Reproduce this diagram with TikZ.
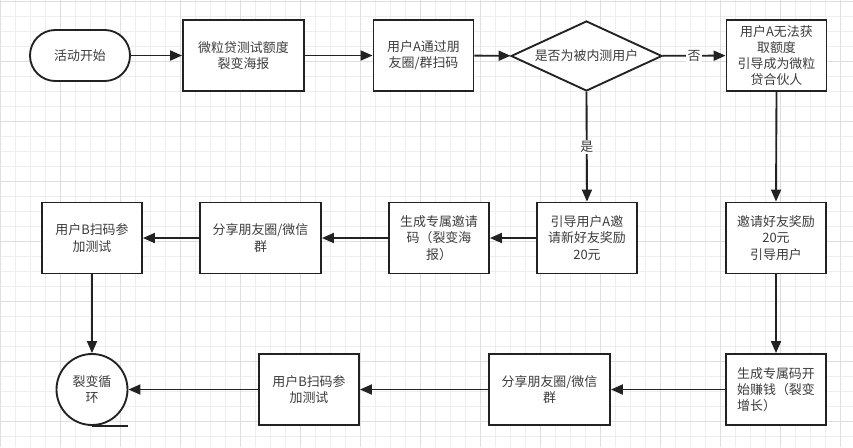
\documentclass[tikz,border=0pt]{standalone}
\usepackage{fontspec}
\setmainfont{Noto Sans CJK SC}
\usepackage{tikz}
\usetikzlibrary{shapes.geometric, arrows.meta, positioning}
\definecolor{mydark}{RGB}{34,34,34}
\definecolor{mytext}{RGB}{60,60,60}
\definecolor{gridminor}{RGB}{238,238,238}
\definecolor{gridmajor}{RGB}{222,222,222}
\tikzset{
  box/.style={rectangle, draw=mydark, fill=white, text=mytext,
    minimum width=75pt, minimum height=53.25pt, align=center,
    inner sep=2pt, line width=1.4pt,
    font=\fontsize{9.7}{12.2}\selectfont},
  widebox/.style={box, minimum width=90.75pt},
  startnode/.style={box, minimum height=38.25pt, rounded corners=19pt},
  decision/.style={diamond, aspect=2.16, draw=mydark, fill=white, text=mytext,
    minimum width=113.25pt, minimum height=52.5pt, inner sep=0pt,
    line width=1.4pt, font=\fontsize{9.7}{12.2}\selectfont},
  loopnode/.style={circle, draw=mydark, fill=white, text=mytext,
    minimum size=53.25pt, inner sep=0pt, align=center,
    line width=1.4pt, font=\fontsize{9.7}{12.2}\selectfont},
  arrow/.style={-{Triangle[length=9pt,width=7.5pt]}, line width=1.4pt, color=mydark},
  line/.style={line width=1.4pt, color=mydark},
  edgelabel/.style={fill=white, text=mytext, inner sep=1pt,
    font=\fontsize{9.7}{12.2}\selectfont}
}

\begin{document}
\begin{tikzpicture}[x=0.75pt, y=-0.75pt]
  % Background grid
  \path[use as bounding box, fill=white] (0,0) rectangle (853,447);
  \foreach \gx in {0,15,...,853}
    \draw[gridminor, line width=0.5pt] (\gx,0) -- (\gx,447);
  \foreach \gy in {1.7,16.7,...,447}
    \draw[gridminor, line width=0.5pt] (0,\gy) -- (853,\gy);
  \foreach \gx in {0,60,...,853}
    \draw[gridmajor, line width=0.6pt] (\gx,0) -- (\gx,447);
  \foreach \gy in {1.7,61.7,...,447}
    \draw[gridmajor, line width=0.6pt] (0,\gy) -- (853,\gy);

  % Top row
  \node[startnode] (start) at (80,55.5) {活动开始};
  \node[widebox] (poster) at (243.5,55.5) {微粒贷测试额度\\裂变海报};
  \node[box] (scanA) at (423.5,55.5) {用户A通过朋\\友圈/群扫码};
  \node[decision] (inner) at (586.5,56) {是否为被内测用户};
  \node[box] (partner) at (776.5,55.5) {用户A无法获\\取额度\\引导成为微粒\\贷合伙人};

  % Middle row
  \node[box] (scanB1) at (92,238) {用户B扫码参\\加测试};
  \node[widebox] (share1) at (260.5,238) {分享朋友圈/微信\\群};
  \node[box] (code1) at (439,238) {生成专属邀请\\码（裂变海\\报）};
  \node[box] (invite1) at (587,238) {引导用户A邀\\请新好友奖励\\20元};
  \node[box] (invite2) at (776,238) {邀请好友奖励\\20元\\引导用户};

  % Bottom row
  \node[loopnode] (loop) at (92,389.5) {裂变循\\环};
  \node[box] (scanB2) at (309,389.5) {用户B扫码参\\加测试};
  \node[widebox] (share2) at (549.5,389.5) {分享朋友圈/微信\\群};
  \node[box, align=left] (code2) at (776,389.5) {生成专属码开\\始赚钱（裂变\\增长）};

  % Connectors
  \draw[arrow] (start) -- (poster);
  \draw[arrow] (poster) -- (scanA);
  \draw[arrow] (scanA) -- (inner);
  \draw[arrow] (inner) -- node[edgelabel] {否} (partner);
  \draw[arrow] (inner.south) -- node[edgelabel] {是} (invite1.north);
  \draw[arrow] (invite1) -- (code1);
  \draw[arrow] (code1) -- (share1);
  \draw[arrow] (share1) -- (scanB1);
  \draw[arrow] (scanB1) -- (loop);
  \draw[arrow] (partner.south) -- (invite2.north);
  \draw[arrow] (invite2) -- (code2);
  \draw[arrow] (code2) -- (share2);
  \draw[arrow] (share2) -- (scanB2);
  \draw[arrow] (scanB2) -- (loop);
  \draw[line] (loop.south) -- (loop.south -| loop.east);
\end{tikzpicture}
\end{document}
